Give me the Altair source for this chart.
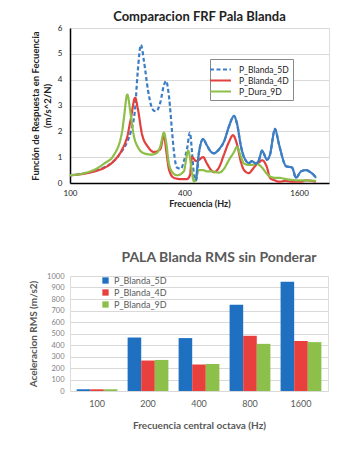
import altair as alt
import pandas as pd

# ---------------- Top chart data (FRF curves) ----------------
series_names = ["P_Blanda_5D", "P_Blanda_4D", "P_Dura_9D"]

freq_5d = [100, 119, 139, 151, 170, 188, 200, 209, 220, 227, 236, 245, 257, 267, 276, 284,
           298, 312, 320, 332, 344, 352, 365, 383, 397, 412, 427, 438, 449, 460, 477, 501,
           525, 552, 571, 607, 645, 686, 728, 755, 793, 822, 874, 905, 951, 986, 1022, 1086,
           1126, 1196, 1255, 1367, 1470, 1543, 1639, 1741, 1850, 1918, 1965]
val_5d = [0.30, 0.38, 0.50, 0.60, 0.85, 1.25, 1.6, 2.0, 2.9, 4.3, 5.35, 4.7, 3.6, 3.0, 2.8, 2.78,
          3.1, 3.8, 3.95, 3.3, 2.0, 1.2, 0.6, 0.55, 0.85, 1.3, 1.95, 1.2, 0.3, 0.1, 1.2, 1.7,
          1.45, 1.2, 1.15, 1.3, 1.6, 2.2, 2.6, 2.3, 1.4, 1.0, 0.77, 0.85, 0.75, 0.9, 1.25, 0.9,
          1.1, 2.1, 1.5, 0.65, 0.6, 0.2, 0.45, 0.5, 0.4, 0.3, 0.2]

freq_4d = [100, 119, 139, 151, 170, 188, 200, 209, 220, 227, 239, 257, 276, 298, 312, 320,
           332, 352, 383, 412, 427, 438, 460, 477, 501, 525, 552, 571, 607, 645, 686, 719,
           755, 793, 822, 874, 905, 951, 986, 1022, 1086, 1126, 1196, 1255, 1367, 1470, 1639,
           1741, 1965]
val_4d = [0.30, 0.36, 0.48, 0.58, 0.85, 1.3, 1.8, 2.5, 3.3, 2.9, 1.9, 1.4, 1.2, 1.3, 1.85, 1.3,
          0.5, 0.2, 0.15, 0.15, 0.3, 1.0, 0.85, 0.9, 1.0, 0.75, 0.5, 0.42, 0.6, 1.1, 1.6, 1.85,
          1.5, 0.8, 0.5, 0.38, 0.5, 0.7, 0.8, 0.88, 0.6, 0.2, 0.1, 0.05, 0.08, 0.05, 0.05,
          0.1, 0.05]

freq_9d = [100, 119, 139, 151, 170, 188, 192, 200, 209, 217, 227, 245, 267, 284, 298, 312,
           320, 332, 352, 365, 397, 412, 418, 427, 438, 449, 477, 501, 525, 552, 607, 645,
           686, 728, 755, 793, 822, 874, 905, 951, 1022, 1086, 1126, 1196, 1255, 1367, 1470,
           1639, 1741, 1965]
val_9d = [0.30, 0.38, 0.57, 0.75, 1.08, 2.0, 2.5, 3.42, 2.6, 1.8, 1.4, 1.15, 1.1, 1.15, 1.4, 1.95,
          1.6, 0.7, 0.35, 0.3, 0.45, 1.1, 1.25, 1.0, 0.4, 0.05, 0.5, 0.5, 0.45, 0.45, 0.4, 0.55,
          0.9, 1.2, 1.4, 1.0, 0.75, 0.7, 0.7, 0.75, 0.6, 0.35, 0.25, 0.2, 0.2, 0.15, 0.12,
          0.1, 0.1, 0.08]

# the dense blue trace renders as a solid line above this frequency
solid_from_5d = 460

line_colors = ["#3C7DC4", "#E2403E", "#8DBE48"]
line_dashes = [[4, 2.5], [1, 0], [1, 0]]

# ---------------- Bottom chart data (RMS bars) ----------------
bands = ["100", "200", "400", "800", "1600"]
rms_names = ["P_Blanda_5D", "P_Blanda_4D", "P_Blanda_9D"]
rms_5d = [15, 465, 460, 750, 950]
rms_4d = [15, 265, 230, 480, 435]
rms_9d = [15, 270, 235, 410, 425]
bar_colors = ["#1F70C1", "#E8403D", "#8CC04B"]

rows = []
for name, fs, vs in zip(series_names, [freq_5d, freq_4d, freq_9d], [val_5d, val_4d, val_9d]):
    for f, v in zip(fs, vs):
        rows.append({"serie": name, "freq": f, "frf": v})
df_lines = pd.DataFrame(rows)

bar_rows = []
for name, vals in zip(rms_names, [rms_5d, rms_4d, rms_9d]):
    for b, v in zip(bands, vals):
        bar_rows.append({"serie": name, "banda": b, "rms": v})
df_bars = pd.DataFrame(bar_rows)

FONT = "Lato"

top_legend = alt.Legend(
    title=None, orient="none", legendX=140, legendY=31,
    symbolType="M-2,0L2,0", symbolSize=110, symbolStrokeWidth=2,
    labelFontSize=8.5, labelFont=FONT, labelColor="#222", rowPadding=0, labelOffset=12,
    strokeColor="#888", padding=4, fillColor="white",
)

x_top = alt.X("freq:Q",
              scale=alt.Scale(type="log", domain=[100, 2300], nice=False),
              axis=alt.Axis(values=[100, 400, 1600], format="d", title="Frecuencia (Hz)",
                            grid=False, ticks=False, domainColor="black", domainWidth=1.5,
                            labelFontSize=8, labelFont=FONT, labelColor="#222", labelPadding=6,
                            titleFontSize=9, titleFont=FONT, titleFontWeight="bold",
                            titleColor="#222", titlePadding=2, labelFlush=False))
y_top = alt.Y("frf:Q",
              scale=alt.Scale(domain=[0, 6], nice=False),
              axis=alt.Axis(values=[0, 1, 2, 3, 4, 5, 6],
                            title=["Función de Respuesta en Fecuencia", "(m/s^2/N)"],
                            grid=True, gridColor="#d9d9d9", ticks=False, domainColor="black",
                            domainWidth=1.5, labelFontSize=8, labelFont=FONT, labelColor="#222",
                            labelPadding=8, titleFontSize=9.5, titleFont=FONT, titleFontWeight="bold",
                            titleColor="#222", titlePadding=5, titleLineHeight=12))

lines = alt.Chart(df_lines).mark_line(interpolate="monotone", strokeWidth=2.2).encode(
    x=x_top,
    y=y_top,
    color=alt.Color("serie:N", scale=alt.Scale(domain=series_names, range=line_colors), legend=top_legend),
    strokeDash=alt.StrokeDash("serie:N", scale=alt.Scale(domain=series_names, range=line_dashes), legend=top_legend),
)

solid_blue = alt.Chart(df_lines).transform_filter(
    (alt.datum.serie == series_names[0]) & (alt.datum.freq >= solid_from_5d)
).mark_line(interpolate="monotone", strokeWidth=2.2, color=line_colors[0]).encode(
    x=x_top, y=y_top,
)

top = alt.layer(lines, solid_blue).properties(
    width=259, height=155,
    title=alt.TitleParams("Comparacion FRF Pala Blanda", font=FONT, fontSize=13, fontWeight="bold",
                          color="#222", offset=0),
)

bottom = alt.Chart(df_bars).mark_bar().encode(
    x=alt.X("banda:N", sort=bands,
            scale=alt.Scale(paddingInner=0.2, paddingOuter=0.13),
            axis=alt.Axis(title="Frecuencia central octava (Hz)", labelAngle=0, ticks=False, domain=False,
                          labelFontSize=9, labelFont=FONT, labelColor="#595959", labelPadding=8,
                          titleFontSize=10, titleFont=FONT, titleFontWeight="bold",
                          titleColor="#595959", titlePadding=12)),
    xOffset=alt.XOffset("serie:N", sort=rms_names),
    y=alt.Y("rms:Q",
            scale=alt.Scale(domain=[0, 1000], nice=False),
            axis=alt.Axis(values=list(range(0, 1001, 100)), format="d", title="Aceleracion RMS (m/s2)",
                          grid=True, gridColor="#d9d9d9", ticks=False, domain=False,
                          labelFontSize=7.5, labelFont=FONT, labelColor="#7f7f7f", labelPadding=6,
                          titleFontSize=10, titleFont=FONT, titleFontWeight="bold",
                          titleColor="#595959", titlePadding=8)),
    color=alt.Color("serie:N", sort=rms_names,
                    scale=alt.Scale(domain=rms_names, range=bar_colors),
                    legend=alt.Legend(title=None, orient="none", legendX=31, legendY=0,
                                      symbolType="square", symbolSize=40, labelFontSize=9,
                                      labelFont=FONT, labelColor="#595959", rowPadding=2)),
).properties(
    width=258, height=115,
    title=alt.TitleParams("PALA Blanda RMS sin  Ponderar", font=FONT, fontSize=14, fontWeight="bold",
                          color="#595959", offset=7, dx=20),
)

chart = alt.vconcat(top, bottom, spacing=41).resolve_scale(color="independent", strokeDash="independent").properties(
    padding={"left": 20, "top": 2, "right": 5, "bottom": 5}
).configure_view(stroke=None).configure(background="white")

chart.save("out.html", embed_options={"renderer": "svg", "actions": False})
